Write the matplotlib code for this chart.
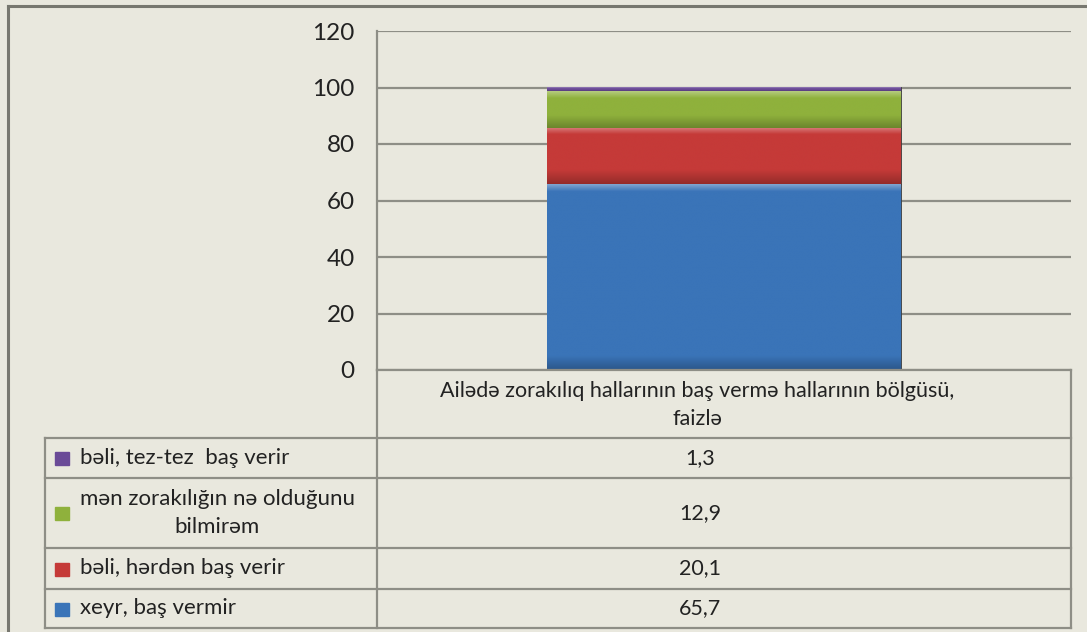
import numpy as np
import matplotlib.pyplot as plt
from matplotlib.lines import Line2D
from matplotlib.colors import to_rgb

plt.rcParams['font.family'] = ['Lato', 'DejaVu Sans']

# data (bottom to top of the stack)
series_names = ['xeyr, baş vermir', 'bəli, hərdən baş verir',
                'mən zorakılığın nə olduğunu\nbilmirəm', 'bəli, tez-tez  baş verir']
values = [65.7, 20.1, 12.9, 1.3]
colors = ['#3a74b8', '#c53a38', '#8fb13c', '#6a4a97']
category = 'Ailədə zorakılıq hallarının baş vermə hallarının bölgüsü,\nfaizlə'
yticks = [0, 20, 40, 60, 80, 100, 120]

bg = '#e9e8de'
grid_c = '#8e8e86'
txt_c = '#222222'
W, H = 1087, 632

fig = plt.figure(figsize=(W / 100, H / 100), dpi=100, facecolor=bg)

# chart area
ax = fig.add_axes([377 / W, 1 - 370 / H, 694 / W, 339 / H])
ax.set_facecolor(bg)
bottom = 0
for v, c in zip(values, colors):
    bars = ax.bar(0, v, width=0.51, bottom=bottom, color=c, edgecolor='#3b3b3b',
                  linewidth=0.6, zorder=3)
    # soft bevel shading: light strip on top, darker toward the bottom
    p = bars[0]
    base = np.array(to_rgb(c))
    h = np.linspace(0, v, 300)[:, None]          # height inside segment
    top_w = min(2.5, v * 0.3)
    bot_w = min(5.0, v * 0.35)
    light = base + (1 - base) * 0.35
    dark = base * 0.75
    a_top = np.clip((h - (v - top_w)) / top_w, 0, 1)
    a_bot = np.clip(1 - h / bot_w, 0, 1)
    shade = base * (1 - a_top - a_bot) + light * a_top + dark * a_bot
    img = np.repeat(shade[:, None, :], 2, axis=1)
    im = ax.imshow(img, extent=(p.get_x(), p.get_x() + p.get_width(), bottom, bottom + v),
                   origin='lower', aspect='auto', zorder=3.5, interpolation='bilinear')
    im.set_clip_path(p)
    bottom += v
ax.set_xlim(-0.5, 0.5)
ax.set_ylim(0, 120)
ax.set_yticks(yticks)
ax.set_yticklabels([str(t) for t in yticks], fontsize=17.5, color=txt_c)
ax.tick_params(axis='y', length=0, pad=16)
ax.set_xticks([])
ax.yaxis.grid(True, color=grid_c, linewidth=1.6, zorder=0)
for s in ['top', 'right', 'bottom']:
    ax.spines[s].set_visible(False)
ax.spines['left'].set_color(grid_c)
ax.spines['left'].set_linewidth(1.6)

# table drawn in pixel coords
tax = fig.add_axes([0, 0, 1, 1])
tax.set_xlim(0, W)
tax.set_ylim(H, 0)
tax.axis('off')
tax.patch.set_alpha(0)

def hline(y, x0, x1):
    tax.add_line(Line2D([x0, x1], [y, y], color=grid_c, linewidth=1.6))

def vline(x, y0, y1):
    tax.add_line(Line2D([x, x], [y0, y1], color=grid_c, linewidth=1.6))

row_y = [438, 478, 548, 589, 628]
hline(370, 377, 1071)
for y in row_y:
    hline(y, 45, 1071)
vline(45, 438, 628)
vline(377, 370, 628)
vline(1071, 370, 628)

tax.text(697, 405, category, ha='center', va='center', fontsize=15.5,
         color=txt_c, linespacing=1.55)

rows = list(zip(series_names, values, colors))[::-1]
for i, (name, v, c) in enumerate(rows):
    yc = (row_y[i] + row_y[i + 1]) / 2
    tax.add_patch(plt.Rectangle((55, yc - 6), 14, 13, color=c))
    tax.text(80, yc, name, ha='left', va='center', fontsize=16,
             color=txt_c, multialignment='center', linespacing=1.5)
    tax.text(700, yc, f'{v:.1f}'.replace('.', ','), ha='center', va='center',
             fontsize=15.5, color=txt_c)

# outer frame (left and top edges)
tax.add_line(Line2D([8, 8], [6, H], color='#77776f', linewidth=2.2))
tax.add_line(Line2D([8, W], [6, 6], color='#77776f', linewidth=2.2))

fig.savefig('out.png', dpi=100, facecolor=bg)
